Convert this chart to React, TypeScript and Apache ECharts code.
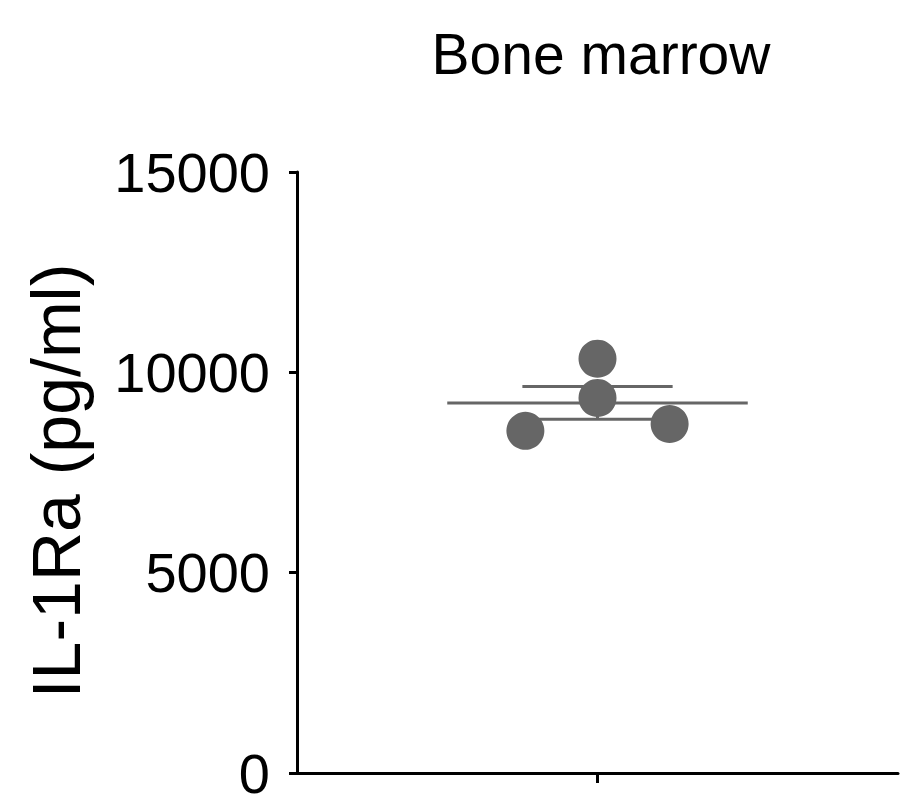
import {useEffect, useRef} from 'react';
import * as echarts from 'echarts';

const title = 'Bone marrow';
const yTitle = 'IL-1Ra (pg/ml)';
// jittered x positions of the dots (0..1 across the plot) and their values
const dotX = [0.38, 0.5, 0.5, 0.62];
const dotY = [8540, 10340, 9360, 8710];
const yTicks = [0, 5000, 10000, 15000];

const FONT = 'Liberation Sans, Arial, sans-serif';
const GREY = '#666666';

const App = () => {
    const chartRef = useRef<HTMLDivElement>(null);

    useEffect(() => {
        if (!chartRef.current) return;
        const chart = echarts.init(chartRef.current, null, {renderer: 'svg'});

        const n = dotY.length;
        const mean = dotY.reduce((a, b) => a + b, 0) / n;
        const sd = Math.sqrt(dotY.reduce((a, b) => a + (b - mean) ** 2, 0) / (n - 1));
        const sem = sd / Math.sqrt(n);

        const lineStyle = {color: GREY, width: 3};
        const seg = (data: number[][]) => ({
            type: 'line',
            data,
            showSymbol: false,
            symbol: 'none',
            lineStyle,
            z: 1,
            silent: true,
        });

        chart.setOption({
            animation: false,
            graphic: [
                {
                    type: 'text',
                    x: 601,
                    y: 54,
                    style: {text: title, fontSize: 57, fontFamily: FONT, fill: '#000', textAlign: 'center', textVerticalAlign: 'middle'},
                },
                {
                    type: 'text',
                    x: 56,
                    y: 481,
                    rotation: Math.PI / 2,
                    style: {text: yTitle, fontSize: 68, fontFamily: FONT, fill: '#000', textAlign: 'center', textVerticalAlign: 'middle'},
                },
            ],
            grid: {left: 297, right: 15, top: 172, bottom: 36},
            xAxis: {
                type: 'value',
                min: 0,
                max: 1,
                axisLine: {show: true, lineStyle: {color: '#000', width: 3}},
                axisTick: {show: true, customValues: [0.5], length: 10, lineStyle: {color: '#000', width: 3}},
                axisLabel: {show: false},
                splitLine: {show: false},
            },
            yAxis: {
                type: 'value',
                min: yTicks[0],
                max: yTicks[yTicks.length - 1],
                interval: 5000,
                axisLine: {show: true, lineStyle: {color: '#000', width: 3}},
                axisTick: {show: true, length: 8, lineStyle: {color: '#000', width: 3}},
                axisLabel: {fontSize: 56, fontFamily: FONT, color: '#000', margin: 27, formatter: (v: number) => String(v)},
                splitLine: {show: false},
            },
            series: [
                seg([[0.25, mean], [0.75, mean]]),
                seg([[0.375, mean + sem], [0.625, mean + sem]]),
                seg([[0.375, mean - sem], [0.625, mean - sem]]),
                seg([[0.5, mean - sem], [0.5, mean + sem]]),
                {
                    type: 'scatter',
                    data: dotX.map((x, i) => [x, dotY[i]]),
                    symbol: 'circle',
                    symbolSize: 38,
                    itemStyle: {color: GREY, opacity: 1},
                    z: 5,
                },
            ],
        });

        return () => {
            chart.dispose();
        };
    }, []);

    return <div ref={chartRef} style={{position: 'fixed', left: 0, top: 0, width: 913, height: 809, background: '#fff'}} />;
};

export default App;
